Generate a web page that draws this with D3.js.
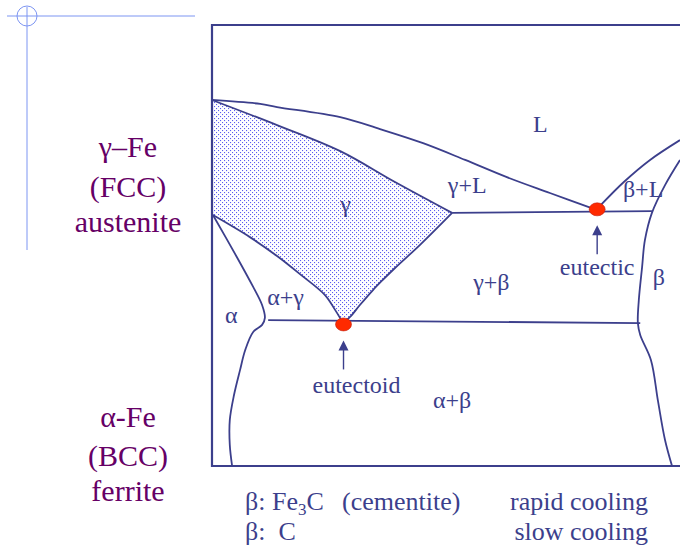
<!DOCTYPE html>
<html>
<head>
<meta charset="utf-8">
<script src="https://cdn.jsdelivr.net/npm/d3@7"></script>
<style>
  body { margin: 0; background: #fff; }
  svg { display: block; }
</style>
</head>
<body>
<div id="chart"></div>
<script>
// Schematic Fe-C phase diagram, composition and temperature in arbitrary units (0-100)

// phase boundaries, as [composition, temperature]
const liquidusLeft = [[0,83],[10.3,82.1],[13.9,81.4],[27.4,79.1],[35.9,76.4],[45.1,73.2],[54.1,69.4],[63,65.5],[72.2,61.9],[82.3,58]];
const solidus = [[0,83],[13.9,77.3],[27.4,71.4],[39.1,64.4],[51.3,57.4]];
const gammaRight = [[51.3,57.4],[44.4,50.1],[39.1,44.9],[36.5,42.2],[34.4,39.9],[31.6,36.5],[29.5,33.8],[28,32.4]];
const gammaLeft = [[0.2,56.9],[8.1,51.9],[13.9,47.6],[18.8,43.5],[24.1,38.8],[26.3,35.4],[28,32.4]];
const alphaLine = [[0.2,56.9],[5.3,47.4],[8.8,40.6],[10.7,36.5],[11.3,33.6],[10.7,32],[8.8,30.4],[7.1,26.3],[6,21.8],[4.7,16.1],[3.8,10.4],[3.8,4.8],[4.3,0]];
const liquidusRight = [[83.1,59.2],[88,64.4],[93.6,69.4],[100,73.9]];
const betaLine = [[100,69.4],[96.8,63.7],[94,57.4],[92.5,51.2],[91.9,45.1],[91.2,37.6],[91,32.4],[91.5,29.7],[93.8,24],[95.3,14.7],[96.8,5.9],[98.3,0]];
const eutecticLine = [[51.3,57.4],[94,57.8]];
const eutectoidLine = [[12,33.1],[91.5,32.4]];

// invariant points
const eutectic = [82.3, 58.2];
const eutectoid = [28.1, 32.1];

// region labels
const regionNames = ["L", "γ+L", "β+L", "γ", "γ+β", "β", "α", "α+γ", "α+β"];
const regionPos = [[68.6,75.7],[50.4,61.9],[87.8,61],[27.4,57.6],[55.8,39.9],[94.2,41],[2.8,32.4],[11.8,36.5],[47.2,13.2]];

const leftTop = ["γ–Fe", "(FCC)", "austenite"];
const leftBottom = ["α-Fe", "(BCC)", "ferrite"];

const width = 680;
const height = 547;
const margin = {left: 212, right: 0, top: 25, bottom: 81};

const navy = "#3c3f8c";
const purple = "#660066";

const svg = d3.select("#chart")
  .append("svg")
  .attr("width", width)
  .attr("height", height)
  .style("font-family", '"Liberation Serif"');

const x = d3.scaleLinear().domain([0, 100]).range([margin.left, width - margin.right]);
const y = d3.scaleLinear().domain([0, 100]).range([height - margin.bottom, margin.top]);

// dotted fill for the austenite field
const pat = svg.append("defs").append("pattern")
  .attr("id", "dots")
  .attr("patternUnits", "userSpaceOnUse")
  .attr("width", 4).attr("height", 4);
pat.append("rect").attr("x", 0).attr("y", 0).attr("width", 1.1).attr("height", 1.1).attr("fill", "#5c5cf0");
pat.append("rect").attr("x", 2).attr("y", 2).attr("width", 1.1).attr("height", 1.1).attr("fill", "#5c5cf0");

// corner decoration
svg.append("line").attr("x1", 7).attr("x2", 195).attr("y1", 16).attr("y2", 16)
  .attr("stroke", "#7d95f2").attr("stroke-width", 1);
svg.append("line").attr("x1", 27).attr("x2", 27).attr("y1", 7).attr("y2", 250)
  .attr("stroke", "#7d95f2").attr("stroke-width", 1);
svg.append("circle").attr("cx", 27).attr("cy", 16).attr("r", 10)
  .attr("fill", "none").attr("stroke", "#7d95f2").attr("stroke-width", 1);

const line = d3.line()
  .x(d => x(d[0]))
  .y(d => y(d[1]))
  .curve(d3.curveCatmullRom.alpha(0.5));

// gamma field: smooth each boundary, then close along the axis
svg.append("path")
  .attr("d", () => {
    const a = line(solidus);
    const b = line(gammaRight).replace(/^M[^C]*/, "");
    const c = line(gammaLeft.slice().reverse()).replace(/^M[^C]*/, "");
    return a + b + c + "Z";
  })
  .attr("fill", "url(#dots)")
  .attr("stroke", "none");

// frame
svg.append("path")
  .attr("d", `M${x(100)},${y(100)}H${x(0)}V${y(0)}H${x(100)}`)
  .attr("fill", "none")
  .attr("stroke", navy)
  .attr("stroke-width", 2.2);

// boundaries
const curves = [liquidusLeft, solidus, gammaRight, gammaLeft, alphaLine, liquidusRight, betaLine];
svg.selectAll(".boundary")
  .data(curves)
  .enter()
  .append("path")
    .attr("class", "boundary")
    .attr("d", line)
    .attr("fill", "none")
    .attr("stroke", navy)
    .attr("stroke-width", 1.8);

svg.selectAll(".iso")
  .data([eutecticLine, eutectoidLine])
  .enter()
  .append("line")
    .attr("class", "iso")
    .attr("x1", d => x(d[0][0])).attr("y1", d => y(d[0][1]))
    .attr("x2", d => x(d[1][0])).attr("y2", d => y(d[1][1]))
    .attr("stroke", navy)
    .attr("stroke-width", 1.8);

// invariant points with arrows
[eutectic, eutectoid].forEach(p => {
  const cx = x(p[0]), cy = y(p[1]);
  svg.append("ellipse")
    .attr("cx", cx).attr("cy", cy)
    .attr("rx", 8).attr("ry", 6.5)
    .attr("fill", "#ff2a00")
    .attr("stroke", "#c02010").attr("stroke-width", 0.6);
  svg.append("line")
    .attr("x1", cx).attr("x2", cx)
    .attr("y1", cy + 24).attr("y2", cy + 45)
    .attr("stroke", navy).attr("stroke-width", 1.4);
  svg.append("path")
    .attr("d", `M${cx},${cy + 16}L${cx - 5},${cy + 26}L${cx + 5},${cy + 26}Z`)
    .attr("fill", navy);
});

// region labels
svg.selectAll(".region")
  .data(regionNames)
  .enter()
  .append("text")
    .attr("class", "region")
    .attr("x", (d, i) => x(regionPos[i][0]))
    .attr("y", (d, i) => y(regionPos[i][1]))
    .attr("font-size", 24)
    .attr("fill", navy)
    .text(d => d);

svg.append("text")
  .attr("x", x(eutectic[0])).attr("y", 275)
  .attr("text-anchor", "middle")
  .attr("font-size", 24).attr("fill", navy)
  .text("eutectic");
svg.append("text")
  .attr("x", x(eutectoid[0]) + 13).attr("y", 393)
  .attr("text-anchor", "middle")
  .attr("font-size", 24).attr("fill", navy)
  .text("eutectoid");

// phase names on the left
const leftBase = [[157, 197, 232], [427, 466, 501]];
[leftTop, leftBottom].forEach((group, g) => {
  group.forEach((t, i) => {
    svg.append("text")
      .attr("x", 128).attr("y", leftBase[g][i])
      .attr("text-anchor", "middle")
      .attr("font-size", 30)
      .attr("fill", purple)
      .text(t);
  });
});

// notes below
const n1 = svg.append("text").attr("x", 245).attr("y", 510)
  .attr("font-size", 26).attr("fill", navy);
n1.append("tspan").text("β: Fe");
n1.append("tspan").attr("font-size", 17).attr("dy", 5).text("3");
n1.append("tspan").attr("dy", -5).text("C");
n1.append("tspan").attr("x", 342).text("(cementite)");

svg.append("text").attr("x", 245).attr("y", 540)
  .attr("font-size", 26).attr("fill", navy)
  .attr("xml:space", "preserve")
  .text("β:  C");

svg.append("text").attr("x", 648).attr("y", 510)
  .attr("text-anchor", "end")
  .attr("font-size", 26).attr("fill", navy)
  .text("rapid cooling");
svg.append("text").attr("x", 648).attr("y", 540)
  .attr("text-anchor", "end")
  .attr("font-size", 26).attr("fill", navy)
  .text("slow cooling");
</script>
</body>
</html>
